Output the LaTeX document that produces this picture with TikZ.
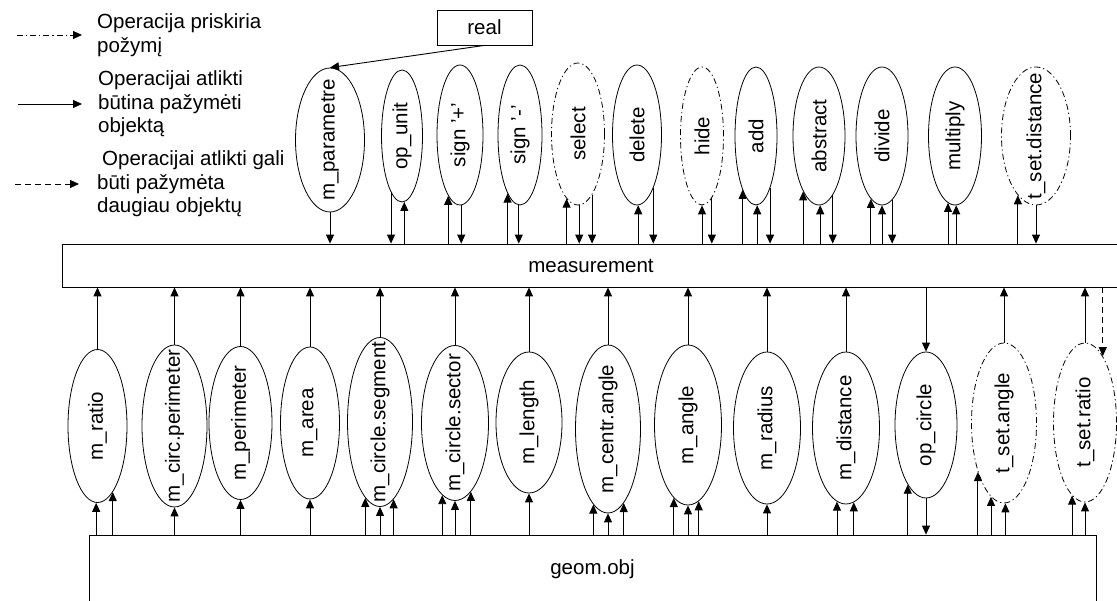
\documentclass[tikz,border=0pt]{standalone}
\usepackage{fontspec}
\setmainfont{Liberation Sans}
\usetikzlibrary{shapes,arrows.meta}
\tikzstyle{oper} = [draw, ellipse, inner sep=0pt, line width=0.8pt]
\tikzstyle{attr} = [oper, dash pattern=on 6pt off 3pt on 1.2pt off 3pt]
\tikzstyle{cls} = [draw, rectangle, line width=0.8pt]
\tikzstyle{arr} = [-{Triangle[length=9pt,width=8pt]}, line width=0.9pt]
\tikzstyle{ddot} = [dash pattern=on 6pt off 3pt on 1.2pt off 3pt]
\tikzstyle{ddash} = [dash pattern=on 6pt off 4pt]
\begin{document}
\begin{tikzpicture}[x=1pt, y=-1pt, font=\fontsize{20.5}{23.5}\selectfont]
	\clip (0,0) rectangle (1117,601);
	% legenda
	\node[anchor=west, align=left, inner sep=0pt] (lg1) at (97,35) {Operacija priskiria\\požymį};
	\node[anchor=west, align=left, inner sep=0pt] (lg2) at (98,104) {Operacijai atlikti\\būtina pažymėti\\objektą};
	\node[anchor=west, align=left, inner sep=0pt] (lg3) at (97,184) {\hspace*{5pt}Operacijai atlikti gali\\būti pažymėta\\daugiau objektų};
	\draw[arr, ddot] (lg1.west) ++(-80,0) -- ++(65,0);
	\draw[arr] (lg2.west) ++(-80,0) -- ++(64,0);
	\draw[arr, ddash] (lg3.west) ++(-82,0) -- ++(64,0);
	% klases
	\node[cls, minimum width=95pt, minimum height=35pt] (real) at (484.5,27.5) {real};
	\node[cls, minimum width=1058pt, minimum height=43pt] (meas) at (591,265.5) {measurement};
	\node[cls, minimum width=1007pt, minimum height=68pt] (geom) at (592.5,569) {geom.obj};
	% operacijos virsuje
	\node[oper, minimum width=69pt, minimum height=144pt, label={[rotate=90]center:m\_parametre}] (mpar) at (330,140) {};
	\node[oper, minimum width=41pt, minimum height=132pt, label={[rotate=90]center:op\_unit}] (opunit) at (402,136) {};
	\node[oper, minimum width=46pt, minimum height=140pt, label={[rotate=90]center:sign '+'}] (signp) at (460,135) {};
	\node[oper, minimum width=44pt, minimum height=140pt, label={[rotate=90]center:sign '-'}] (signm) at (520,135) {};
	\node[attr, minimum width=53pt, minimum height=142pt, label={[rotate=90]center:select}] (select) at (578,134) {};
	\node[oper, minimum width=49pt, minimum height=140pt, label={[rotate=90]center:delete}] (delete) at (637,135) {};
	\node[attr, minimum width=43pt, minimum height=138pt, label={[rotate=90]center:hide}] (hide) at (702,136) {};
	\node[oper, minimum width=42pt, minimum height=138pt, label={[rotate=90]center:add}] (add) at (756,136) {};
	\node[oper, minimum width=52pt, minimum height=138pt, label={[rotate=90]center:abstract}] (abstract) at (819,136) {};
	\node[oper, minimum width=52pt, minimum height=138pt, label={[rotate=90]center:divide}] (divide) at (882,136) {};
	\node[oper, minimum width=53pt, minimum height=138pt, label={[rotate=90]center:multiply}] (multiply) at (955,136) {};
	\node[attr, minimum width=69pt, minimum height=138pt, label={[rotate=90]center:t\_set.distance}] (tsetdist) at (1036,136) {};
	% operacijos apacioje
	\node[oper, minimum width=59pt, minimum height=153pt, label={[rotate=90]center:m\_ratio}] (mratio) at (97.5,426) {};
	\node[oper, minimum width=65pt, minimum height=162pt, label={[rotate=90]center:m\_circ.perimeter}] (mcircper) at (174.5,426) {};
	\node[oper, minimum width=63pt, minimum height=153pt, label={[rotate=90]center:m\_perimeter}] (mper) at (240.5,423) {};
	\node[oper, minimum width=59pt, minimum height=152pt, label={[rotate=90]center:m\_area}] (marea) at (310,423) {};
	\node[oper, minimum width=65pt, minimum height=169pt, label={[rotate=90]center:m\_circle.segment}] (mcseg) at (380,422) {};
	\node[oper, minimum width=67pt, minimum height=155pt, label={[rotate=90]center:m\_circle.sector}] (mcsec) at (455,423) {};
	\node[oper, minimum width=66pt, minimum height=141pt, label={[rotate=90]center:m\_length}] (mlen) at (529,422.5) {};
	\node[oper, minimum width=65pt, minimum height=168pt, label={[rotate=90]center:m\_centr.angle}] (mcang) at (608,429) {};
	\node[oper, minimum width=67pt, minimum height=160pt, label={[rotate=90]center:m\_angle}] (mang) at (688,425) {};
	\node[oper, minimum width=67pt, minimum height=152pt, label={[rotate=90]center:m\_radius}] (mrad) at (767,428) {};
	\node[oper, minimum width=67pt, minimum height=152pt, label={[rotate=90]center:m\_distance}] (mdist) at (846,428) {};
	\node[oper, minimum width=62pt, minimum height=146pt, label={[rotate=90]center:op\_circle}] (opcirc) at (926,425) {};
	\node[attr, minimum width=65pt, minimum height=160pt, label={[rotate=90]center:t\_set.angle}] (tsetang) at (1004,423) {};
	\node[attr, minimum width=63pt, minimum height=159pt, label={[rotate=90]center:t\_set.ratio}] (tsetrat) at (1085,422.5) {};
	% rysiai virsuje
	\draw[arr] (real.south) -- (mpar.north);
	\draw[arr] (mpar.south) -- (mpar.south |- meas.north);
	\draw[arr] (opunit.-101) -- (opunit.-101 |- meas.north);
	\draw[arr] (opunit.-88 |- meas.north) -- (opunit.-88);
	\draw[arr] (signp.-101 |- meas.north) -- (signp.-101);
	\draw[arr] (signp.-89) -- (signp.-89 |- meas.north);
	\draw[arr] (signm.-102 |- meas.north) -- (signm.-102);
	\draw[arr] (signm.-91) -- (signm.-91 |- meas.north);
	\draw[arr] (select.-100 |- meas.north) -- (select.-100);
	\draw[arr] (select.-89) -- (select.-89 |- meas.north);
	\draw[arr] (select.-77) -- (select.-77 |- meas.north);
	\draw[arr] (delete.-89 |- meas.north) -- (delete.-89);
	\draw[arr] (delete.-73) -- (delete.-73 |- meas.north);
	\draw[arr] (hide.south |- meas.north) -- (hide.south);
	\draw[arr] (hide.-81) -- (hide.-81 |- meas.north);
	\draw[arr] (add.-104 |- meas.north) -- (add.-104);
	\draw[arr] (add.-89 |- meas.north) -- (add.-89);
	\draw[arr] (add.-75) -- (add.-75 |- meas.north);
	\draw[arr] (abstract.-106 |- meas.north) -- (abstract.-106);
	\draw[arr] (abstract.-89 |- meas.north) -- (abstract.-89);
	\draw[arr] (abstract.-77) -- (abstract.-77 |- meas.north);
	\draw[arr] (divide.-100 |- meas.north) -- (divide.-100);
	\draw[arr] (divide.south |- meas.north) -- (divide.south);
	\draw[arr] (divide.-81) -- (divide.-81 |- meas.north);
	\draw[arr] (multiply.-96 |- meas.north) -- (multiply.-96);
	\draw[arr] (multiply.-89 |- meas.north) -- (multiply.-89);
	\draw[arr] (tsetdist.-107 |- meas.north) -- (tsetdist.-107);
	\draw[arr] (tsetdist.south) -- (tsetdist.south |- meas.north);
	% rysiai su measurement apacioje
	\draw[arr] (mratio.north) -- (mratio.north |- meas.south);
	\draw[arr] (mcircper.north) -- (mcircper.north |- meas.south);
	\draw[arr] (mper.north) -- (mper.north |- meas.south);
	\draw[arr] (marea.north) -- (marea.north |- meas.south);
	\draw[arr] (mcseg.north) -- (mcseg.north |- meas.south);
	\draw[arr] (mcsec.north) -- (mcsec.north |- meas.south);
	\draw[arr] (mlen.north) -- (mlen.north |- meas.south);
	\draw[arr] (mcang.north) -- (mcang.north |- meas.south);
	\draw[arr] (mang.north) -- (mang.north |- meas.south);
	\draw[arr] (mrad.north) -- (mrad.north |- meas.south);
	\draw[arr] (mdist.north) -- (mdist.north |- meas.south);
	\draw[arr] (opcirc.north |- meas.south) -- (opcirc.north);
	\draw[arr] (tsetang.north) -- (tsetang.north |- meas.south);
	\draw[arr] (tsetrat.north) -- (tsetrat.north |- meas.south);
	\draw[arr, ddash] (tsetrat.75 |- meas.south) -- (tsetrat.75);
	% rysiai su geom.obj
	\draw[arr] (mratio.-91 |- geom.north) -- (mratio.-91);
	\draw[arr] (mratio.-77 |- geom.north) -- (mratio.-77);
	\draw[arr] (mcircper.south |- geom.north) -- (mcircper.south);
	\draw[arr] (mper.south |- geom.north) -- (mper.south);
	\draw[arr] (marea.south |- geom.north) -- (marea.south);
	\draw[arr] (mcseg.-101 |- geom.north) -- (mcseg.-101);
	\draw[arr] (mcseg.south |- geom.north) -- (mcseg.south);
	\draw[arr] (mcseg.-80 |- geom.north) -- (mcseg.-80);
	\draw[arr] (mcsec.-100 |- geom.north) -- (mcsec.-100);
	\draw[arr] (mcsec.south |- geom.north) -- (mcsec.south);
	\draw[arr] (mcsec.-77 |- geom.north) -- (mcsec.-77);
	\draw[arr] (mlen.south |- geom.north) -- (mlen.south);
	\draw[arr] (mcang.-101 |- geom.north) -- (mcang.-101);
	\draw[arr] (mcang.south |- geom.north) -- (mcang.south);
	\draw[arr] (mcang.-78 |- geom.north) -- (mcang.-78);
	\draw[arr] (mang.-101 |- geom.north) -- (mang.-101);
	\draw[arr] (mang.south |- geom.north) -- (mang.south);
	\draw[arr] (mang.-82 |- geom.north) -- (mang.-82);
	\draw[arr] (mrad.south |- geom.north) -- (mrad.south);
	\draw[arr] (mdist.-97 |- geom.north) -- (mdist.-97);
	\draw[arr] (mdist.-84 |- geom.north) -- (mdist.-84);
	\draw[arr] (opcirc.-107 |- geom.north) -- (opcirc.-107);
	\draw[arr] (opcirc.south) -- (opcirc.south |- geom.north);
	\draw[arr] (tsetang.-118 |- geom.north) -- (tsetang.-118);
	\draw[arr] (tsetang.-100 |- geom.north) -- (tsetang.-100);
	\draw[arr] (tsetang.-89 |- geom.north) -- (tsetang.-89);
	\draw[arr] (tsetrat.-100 |- geom.north) -- (tsetrat.-100);
	\draw[arr] (tsetrat.south |- geom.north) -- (tsetrat.south);
\end{tikzpicture}
\end{document}
